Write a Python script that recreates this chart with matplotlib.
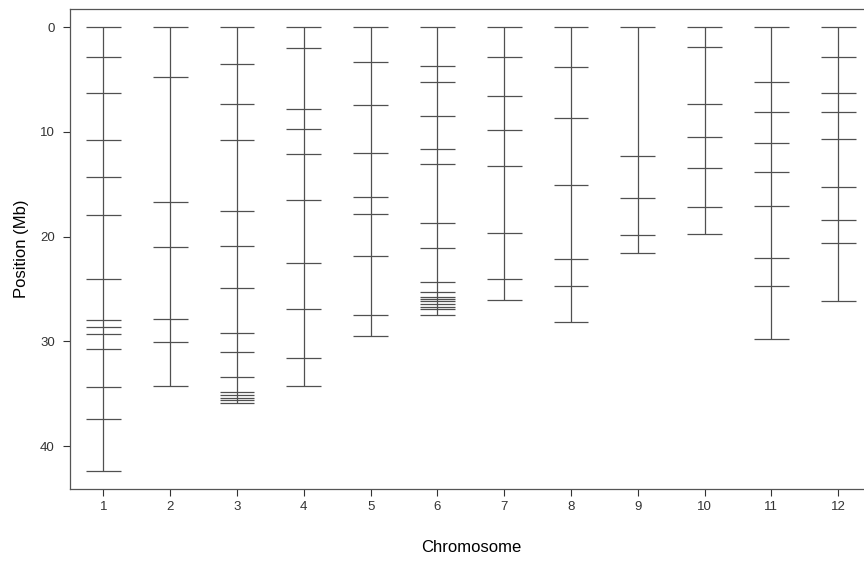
import matplotlib
matplotlib.use("Agg")
import matplotlib.pyplot as plt

plt.rcParams['font.family'] = ['Liberation Sans', 'DejaVu Sans']

# marker positions (Mb) per chromosome
chr1 = [0, 2.87, 6.3, 10.76, 14.3, 17.95, 24.07, 27.96, 28.6, 29.32, 30.7, 34.38, 37.41, 42.4]
chr2 = [0, 4.72, 16.66, 20.96, 27.89, 30.09, 34.29]
chr3 = [0, 3.48, 7.33, 10.74, 17.55, 20.89, 24.87, 29.23, 31.01, 33.4,
        34.86, 35.12, 35.38, 35.62, 35.88]
chr4 = [0, 2.0, 7.83, 9.71, 12.13, 16.52, 22.54, 26.9, 31.6, 34.29]
chr5 = [0, 3.34, 7.45, 12.03, 16.24, 17.83, 21.84, 27.5, 29.48]
chr6 = [0, 3.72, 5.25, 8.44, 11.65, 13.06, 18.72, 21.05, 24.36,
        25.31, 25.73, 25.95, 26.17, 26.43, 26.68, 26.9, 27.5]
chr7 = [0, 2.84, 6.56, 9.84, 13.22, 19.68, 24.07, 26.08]
chr8 = [0, 3.82, 8.69, 15.03, 22.16, 24.71, 28.15]
chr9 = [0, 12.29, 16.27, 19.85, 21.56]
chr10 = [0, 1.91, 7.33, 10.51, 13.47, 17.16, 19.75]
chr11 = [0, 5.25, 8.12, 11.02, 13.82, 17.04, 22.07, 24.71, 29.75]
chr12 = [0, 2.84, 6.3, 8.12, 10.7, 15.22, 18.43, 20.63, 26.11]

chromosomes = [1, 2, 3, 4, 5, 6, 7, 8, 9, 10, 11, 12]
markers = [chr1, chr2, chr3, chr4, chr5, chr6, chr7, chr8, chr9, chr10, chr11, chr12]

fig = plt.figure(figsize=(8.64, 5.67), dpi=100)
ax = fig.add_axes([70 / 864, 1 - 489 / 567, 801.6 / 864, 479.7 / 567])

col = '#505050'
half = 0.26
for c, pos in zip(chromosomes, markers):
    ax.vlines(c, min(pos), max(pos), color=col, lw=0.9)
    ax.hlines(pos, c - half, c + half, color=col, lw=0.9)

ax.set_xlim(0.5, 12.5)
ax.set_ylim(44.1, -1.72)
ax.set_xticks(chromosomes)
ax.set_yticks([0, 10, 20, 30, 40])
ax.tick_params(direction='out', length=5, width=0.8, colors='#333333',
               labelsize=9.5, pad=6)
ax.tick_params(axis='x', pad=4)
for s in ax.spines.values():
    s.set_color('#555555')
    s.set_linewidth(0.9)

ax.set_xlabel('Chromosome', fontsize=12, labelpad=19)
ax.set_ylabel('Position (Mb)', fontsize=12, labelpad=8)

fig.savefig('out.png', dpi=100)
